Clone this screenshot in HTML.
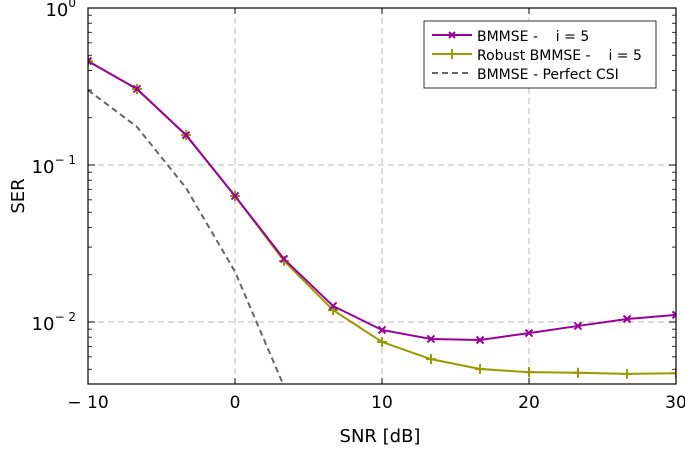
<!DOCTYPE html>
<html><head><meta charset="utf-8"><style>
body{margin:0;background:#fff}
svg text{font-family:"DejaVu Sans","Liberation Sans",sans-serif;fill:#000;white-space:pre}
</style></head><body>
<svg id="c" width="685" height="446" viewBox="0 0 685 446" xmlns="http://www.w3.org/2000/svg">
<defs><clipPath id="clip"><rect x="88" y="8" width="588" height="376"/></clipPath></defs>
<g id="grid"></g>
<g id="series" clip-path="url(#clip)"></g>
<rect x="88" y="8" width="588" height="376" fill="none" stroke="#000" stroke-width="1.2"/>
<g id="axes"></g>
<text x="380" y="442" font-size="18" text-anchor="middle">SNR [dB]</text>
<text transform="translate(24,196) rotate(-90)" font-size="18" text-anchor="middle">SER</text>
<g>
<rect x="424" y="21" width="232" height="67" fill="#fff" stroke="#000" stroke-width="0.8"/>
<g>
<line x1="432" y1="35" x2="472" y2="35" stroke="#990099" stroke-width="2"/>
<path d="M449,32l6,6M455,32l-6,6" stroke="#990099" stroke-width="2"/>
<text x="477" y="41" font-size="14">BMMSE -    i = 5</text></g>
<g>
<line x1="432" y1="54" x2="472" y2="54" stroke="#999900" stroke-width="2"/>
<path d="M452,49v10" stroke="#999900" stroke-width="2"/>
<text x="477" y="60" font-size="14">Robust BMMSE -    i = 5</text></g>
<g>
<line x1="432" y1="73" x2="472" y2="73" stroke="#666" stroke-width="2" stroke-dasharray="6,4"/>
<text x="477" y="79" font-size="14">BMMSE - Perfect CSI</text></g>
</g>
</svg>
<script>
const snr = [-10,-6.67,-3.33,0,3.33,6.67,10,13.33,16.67,20,23.33,26.67,30];
const bmmse = [0.459,0.305,0.155,0.0635,0.0252,0.01265,0.0089,0.0078,0.00768,0.0085,0.00944,0.01045,0.0111];
const robust = [0.459,0.305,0.155,0.0635,0.0245,0.0119,0.00746,0.0058,0.00502,0.00479,0.00475,0.00467,0.00472];
const perfectSnr = [-10,-6.67,-3.33,0,3.33];
const perfect = [0.30,0.175,0.0714,0.0209,0.0039];
const xTicks = [-10,0,10,20,30];
const xTickLabels = ["\u2212 10","0","10","20","30"];
const yDecades = [0,-1,-2];

const NS="http://www.w3.org/2000/svg";
const X = v => 88 + (v+10)/40*588;
const Y = v => 8 - Math.log10(v)*157;
function mk(tag, attrs, parent){const e=document.createElementNS(NS,tag);for(const k in attrs)e.setAttribute(k,attrs[k]);parent.appendChild(e);return e;}
const grid=document.getElementById('grid'), axes=document.getElementById('axes'), ser=document.getElementById('series');

xTicks.forEach((t,i)=>{
  const x=X(t);
  if(i>0&&i<xTicks.length-1){const g=mk('line',{x1:x,y1:8,x2:x,y2:384,stroke:'#bbb','stroke-dasharray':'6,4'},grid);
  
  }
  mk('line',{x1:x,y1:384,x2:x,y2:378,stroke:'#000'},axes);
  mk('line',{x1:x,y1:8,x2:x,y2:14,stroke:'#000'},axes);
  const tx=mk('text',{x:x,y:408,'font-size':17,'text-anchor':'middle'},axes);
  tx.textContent=xTickLabels[i];
  
  
});
yDecades.forEach(d=>{
  const y=Y(Math.pow(10,d));
  if(d<0){const g=mk('line',{x1:88,y1:y,x2:676,y2:y,stroke:'#bbb','stroke-dasharray':'6,4'},grid);
  
  }
  mk('line',{x1:88,y1:y,x2:95,y2:y,stroke:'#000'},axes);
  mk('line',{x1:676,y1:y,x2:669,y2:y,stroke:'#000'},axes);
  const tx=mk('text',{x:76,y:y+8,'font-size':18,'text-anchor':'end'},axes);
  tx.innerHTML='10<tspan dy="-9" font-size="12">'+(d===0?'0':'\u2212 '+(-d))+'</tspan>';
  
  
});
for(let d=-3;d<0;d++){for(let m=2;m<=9;m++){const y=Y(m*Math.pow(10,d));if(y<8||y>384)continue;
  mk('line',{x1:88,y1:y,x2:92,y2:y,stroke:'#000','stroke-width':0.8},axes);
  mk('line',{x1:676,y1:y,x2:672,y2:y,stroke:'#000','stroke-width':0.8},axes);}}

function line(xs,ys,color,name,dash){
  const p=mk('polyline',{points:xs.map((x,i)=>X(x)+','+Y(ys[i])).join(' '),fill:'none',stroke:color,'stroke-width':2},ser);
  if(dash)p.setAttribute('stroke-dasharray',dash);
  
  
}
line(perfectSnr,perfect,'#666','perfect-csi-line','6,4');
line(robust.map((_,i)=>snr[i]),robust,'#999900','robust-line');
line(snr,bmmse,'#990099','bmmse-line');
robust.forEach((v,i)=>{const x=X(snr[i]),y=Y(v);
  const m=mk('path',{d:`M${x-5},${y}h10M${x},${y-5}v10`,stroke:'#999900','stroke-width':2},ser);
  
  });
bmmse.forEach((v,i)=>{const x=X(snr[i]),y=Y(v);
  const m=mk('path',{d:`M${x-3.5},${y-3.5}l7,7M${x+3.5},${y-3.5}l-7,7`,stroke:'#990099','stroke-width':2},ser);
  
  });
</script>
</body></html>
